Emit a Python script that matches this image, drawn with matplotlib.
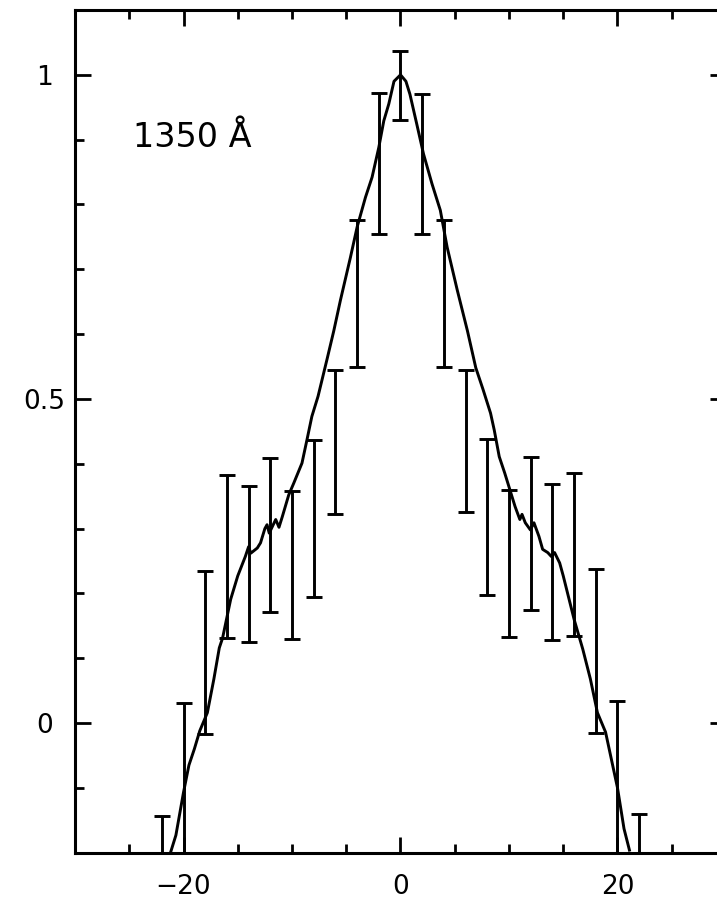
import matplotlib
matplotlib.use("Agg")
import matplotlib.pyplot as plt
import numpy as np
from matplotlib.ticker import MultipleLocator, FixedLocator

# Binned data with error bars (upper / lower ends)
bin_x = [-22, -20, -18, -16, -14, -12, -10, -8, -6, -4, -2, 0,
         2, 4, 6, 8, 10, 12, 14, 16, 18, 20, 22]
bin_hi = [-0.143, 0.031, 0.234, 0.382, 0.366, 0.409, 0.358, 0.437, 0.545, 0.776, 0.972, 1.037,
          0.971, 0.776, 0.545, 0.438, 0.360, 0.411, 0.369, 0.385, 0.237, 0.034, -0.140]
bin_lo = [-0.36, -0.25, -0.017, 0.131, 0.125, 0.172, 0.129, 0.195, 0.323, 0.550, 0.754, 0.930,
          0.755, 0.550, 0.325, 0.197, 0.132, 0.174, 0.128, 0.134, -0.015, -0.25, -0.36]

# Model profile curve
curve_x = [-21.2, -20.7, -20.0, -19.5, -19.0, -18.5, -17.8, -17.2, -16.7, -16.4, -15.65, -15.0,
           -14.3, -14.0, -13.8, -13.2, -12.9, -12.5, -12.3, -12.1, -11.5, -11.2, -10.9, -10.3,
           -9.84, -9.08, -8.62, -8.17, -7.6, -6.76, -6.15, -5.54, -4.62, -4.0, -3.23, -2.62,
           -2.0, -1.54, -1.08, -0.6, 0.0,
           0.5, 0.87, 1.5, 2.12, 2.9, 3.67, 4.3, 5.23, 6.17, 6.94, 7.6, 8.3, 8.64, 9.1, 9.6,
           10.08, 10.56, 11.0, 11.2, 11.5, 11.97, 12.3, 12.76, 13.1, 13.57, 13.9, 14.2, 14.67,
           15.0, 16.0, 16.8, 17.5, 18.15, 18.9, 20.0, 20.6, 21.1]
curve_y = [-0.20, -0.173, -0.107, -0.065, -0.04, -0.012, 0.016, 0.068, 0.116, 0.131, 0.191, 0.227,
           0.257, 0.272, 0.262, 0.270, 0.278, 0.300, 0.306, 0.293, 0.314, 0.302, 0.318, 0.352,
           0.370, 0.401, 0.437, 0.473, 0.504, 0.562, 0.605, 0.652, 0.718, 0.765, 0.811, 0.842,
           0.888, 0.929, 0.955, 0.99, 1.0,
           0.99, 0.97, 0.924, 0.878, 0.832, 0.791, 0.734, 0.668, 0.605, 0.548, 0.515, 0.478, 0.452, 0.411, 0.386,
           0.36, 0.334, 0.314, 0.322, 0.309, 0.298, 0.309, 0.288, 0.268, 0.263, 0.257, 0.263, 0.247,
           0.227, 0.16, 0.114, 0.068, 0.016, -0.014, -0.10, -0.163, -0.196]

label_text = "1350 Å"
xticks_major = [-20, 0, 20]
yticks_major = [0, 0.5, 1]
ytick_labels = ["0", "0.5", "1"]

W, H = 717, 908
fig = plt.figure(figsize=(W / 100, H / 100), dpi=100)
ax = fig.add_axes([75 / W, (H - 852.7) / H, (726 - 75) / W, (852.7 - 10) / H])

bx = np.array(bin_x, dtype=float)
hi = np.array(bin_hi)
lo = np.array(bin_lo)
mid = (hi + lo) / 2
err = (hi - lo) / 2
ax.errorbar(bx, mid, yerr=err, fmt='none', ecolor='black', elinewidth=2.1,
            capsize=6, capthick=2.1)
ax.plot(curve_x, curve_y, color='black', lw=2.1)

ax.set_xlim(-30, 30)
ax.set_ylim(-0.2, 1.1)

ax.xaxis.set_major_locator(FixedLocator(xticks_major))
ax.xaxis.set_minor_locator(MultipleLocator(5))
ax.yaxis.set_major_locator(FixedLocator(yticks_major))
ax.yaxis.set_minor_locator(MultipleLocator(0.1))
ax.set_yticklabels(ytick_labels)

ax.tick_params(which='both', direction='in', top=True, right=True, width=2.0, color='black')
ax.tick_params(which='major', length=11.5)
ax.tick_params(which='minor', length=6.5)
ax.tick_params(axis='x', which='major', pad=15, labelsize=19)
ax.tick_params(axis='y', which='major', pad=22, labelsize=19)
for lab in ax.get_yticklabels():
    lab.set_horizontalalignment('center')

for s in ax.spines.values():
    s.set_linewidth(2.2)

ax.text(-24.65, 0.903, label_text, fontsize=24, ha='left', va='center')

fig.savefig("out.png", dpi=100)
